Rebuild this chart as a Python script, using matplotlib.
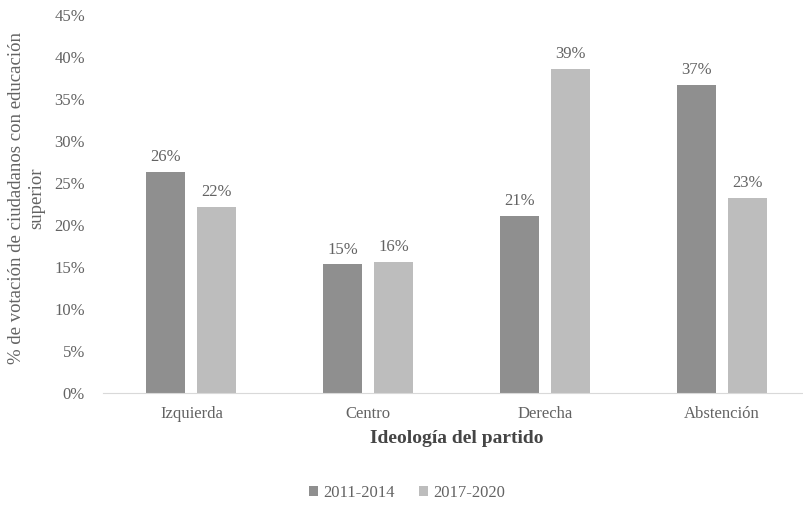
import numpy as np
import matplotlib.pyplot as plt

# Data
categories = ["Izquierda", "Centro", "Derecha", "Abstención"]
series_names = ["2011-2014", "2017-2020"]
values_2011 = [26.3, 15.3, 21.1, 36.7]
values_2017 = [22.2, 15.6, 38.6, 23.2]
labels_2011 = ["26%", "15%", "21%", "37%"]
labels_2017 = ["22%", "16%", "39%", "23%"]

plt.rcParams['font.family'] = ['Liberation Serif', 'DejaVu Serif']
text_color = "#636363"

fig = plt.figure(figsize=(8.04, 5.05), dpi=100)
ax = fig.add_axes([103 / 804, 1 - 393 / 505, 707 / 804, 378 / 505])

x = np.arange(len(categories))
width = 0.22
offset = 0.144
bars1 = ax.bar(x - offset, values_2011, width, color="#8f8f8f", label=series_names[0])
bars2 = ax.bar(x + offset, values_2017, width, color="#bdbdbd", label=series_names[1])

for bars, labels in [(bars1, labels_2011), (bars2, labels_2017)]:
    for b, lab in zip(bars, labels):
        ax.annotate(lab, (b.get_x() + b.get_width() / 2, b.get_height()),
                    xytext=(0, 5), textcoords="offset points",
                    ha="center", va="bottom", fontsize=12, color=text_color)

ax.set_xlim(-0.5, 3.5)
ax.set_ylim(0, 45)
ax.set_yticks(range(0, 46, 5))
ax.set_yticklabels([f"{v}%" for v in range(0, 46, 5)])
ax.set_xticks(x)
ax.set_xticklabels(categories)
ax.tick_params(axis="both", length=0, labelsize=12, colors=text_color)
ax.tick_params(axis="y", pad=13)
ax.tick_params(axis="x", pad=9)

for side in ["top", "right", "left"]:
    ax.spines[side].set_visible(False)
ax.spines["bottom"].set_color("#d9d9d9")

ax.set_xlabel("Ideología del partido", fontsize=14, fontweight="bold",
              color="#454545", labelpad=6)
fig.text(0.033, 1 - 198 / 505, "% de votación de ciudadanos con educación\nsuperior",
         rotation=90, ha="center", va="center", fontsize=13.5, color=text_color,
         linespacing=1.2)

fig.legend(loc="center", bbox_to_anchor=(407 / 804, 1 - 493 / 505), ncol=2,
           frameon=False, fontsize=12, handlelength=0.55, handleheight=0.55,
           handletextpad=0.3, columnspacing=1.5, labelcolor=text_color)

fig.savefig("out.png", dpi=100)
